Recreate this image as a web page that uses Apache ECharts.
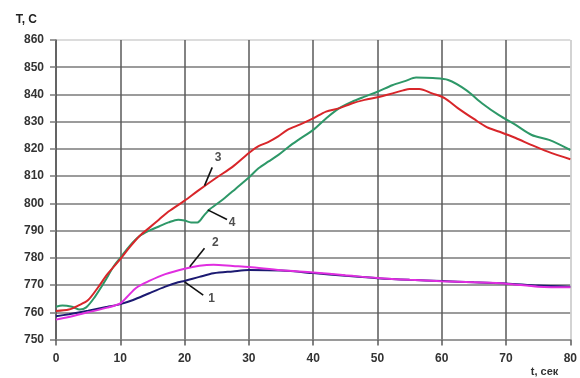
<!DOCTYPE html>
<html>
<head>
<meta charset="utf-8">
<script src="https://cdn.jsdelivr.net/npm/echarts@6/dist/echarts.min.js"></script>
<style>
  html, body { margin: 0; padding: 0; background: #ffffff; }
  #chart { width: 580px; height: 378px; }
</style>
</head>
<body>
<div id="chart"></div>
<script>
// Temperature vs time, four measured curves
const xTicks = [0, 10, 20, 30, 40, 50, 60, 70, 80];
const yTicks = [750, 760, 770, 780, 790, 800, 810, 820, 830, 840, 850, 860];

// Curve 1 (navy)
const t1 = [0, 2, 5, 8, 10, 12, 14.5, 17, 19, 20, 22.3, 24.5, 27.5, 30, 35, 40, 45, 50, 55, 60, 65, 70, 75, 80];
const T1 = [758.5, 759.3, 760.6, 762, 763, 764.5, 767, 769.4, 771, 771.5, 773, 774.3, 775, 775.5, 775.3, 774.4, 773.4, 772.5, 771.9, 771.5, 771, 770.6, 769.8, 769.4];

// Curve 2 (magenta)
const t2 = [0, 2, 5, 8, 10, 11, 12.5, 14.5, 17, 20, 22.3, 24.5, 27.5, 30, 35, 40, 45, 50, 55, 60, 65, 70, 75, 80];
const T2 = [757.3, 758.3, 760, 761.7, 763.3, 765.5, 769, 771.5, 774, 776, 777.1, 777.5, 777, 776.6, 775.4, 774.6, 773.6, 772.6, 771.9, 771.4, 771, 770.5, 769.4, 769.2];

// Curve 3 (red)
const t3 = [0, 2, 3.5, 5, 6.5, 8, 10, 11.5, 13, 14.5, 16, 17.5, 20, 22, 25, 27.5, 30, 31.5, 33, 34.5, 36, 38, 40, 42, 44, 46, 48, 50, 52, 54, 55, 56.5, 58.5, 60.5, 62.5, 65, 67, 69, 71.5, 74, 76.5, 80];
const T3 = [760.5, 761, 762.5, 764.5, 769, 774, 779.5, 784, 788, 791, 794, 797, 801, 804.5, 809.5, 813.5, 818.5, 821, 822.5, 824.5, 827, 829, 831.2, 833.7, 834.9, 836.7, 838, 839, 840.2, 841.5, 842, 842, 840.4, 838.6, 835, 831, 828, 826.3, 824, 821.4, 819, 816.2];

// Curve 4 (green)
const t4 = [0, 1, 2.5, 3.7, 4.7, 6, 7.5, 9, 10, 11.5, 13, 14.5, 16, 17.5, 19, 20, 21, 22, 23, 24, 26, 28, 30, 31.5, 33, 34.6, 36.2, 37.7, 40, 42, 44, 46, 48, 50, 52.3, 54.4, 56, 58.6, 61, 63.8, 66.3, 68.9, 71.5, 74, 76.7, 80];
const T4 = [762, 762.5, 762, 761, 761.8, 765.5, 771, 777, 780, 784.5, 788, 790, 791.5, 793, 794, 793.7, 793, 793, 795.5, 798, 801.5, 805.5, 809.5, 812.9, 815.3, 817.8, 820.8, 823.3, 827, 831.2, 834.9, 837.3, 839.2, 841, 843.4, 845, 846.2, 846, 845.3, 841.6, 836.7, 832.4, 828.8, 825.1, 823.3, 819.6];

// Curve number callouts: leader start, leader end, label position (data units)
const calloutNames = ['1', '2', '3', '4'];
const leaderFrom = [[20, 771.2], [20.8, 776.7], [23.1, 806.5], [23.6, 797.6]];
const leaderTo   = [[22.9, 766.3], [23.1, 783.5], [24.3, 813.2], [26.6, 794.1]];
const labelAt    = [[24.2, 765.0], [24.8, 785.6], [25.2, 816.6], [27.4, 793.0]];

const zip = (ts, vs) => ts.map((t, i) => [t, vs[i]]);
const FONT = 'Liberation Sans, Arial, sans-serif';

const chart = echarts.init(document.getElementById('chart'), null, { renderer: 'canvas' });

function curve(name, ts, vs, color) {
  return {
    name, type: 'line', data: zip(ts, vs), showSymbol: false, smooth: 0.3,
    lineStyle: { color, width: 2 }, itemStyle: { color }, z: 3
  };
}

const xGridColors = xTicks.map((v, i) => i === xTicks.length - 1 ? '#c4c4c4' : '#5a5a5a');
const yGridColors = yTicks.map((v, i) => i === yTicks.length - 1 ? '#d0d0d0' : '#7a7a7a');

chart.setOption({
  animation: false,
  backgroundColor: '#ffffff',
  grid: { left: 56, right: 8.5, top: 40, bottom: 38.5, containLabel: false },
  xAxis: {
    type: 'value', min: xTicks[0], max: xTicks[xTicks.length - 1], interval: 10,
    name: 't, сек', nameLocation: 'end', nameGap: -12,
    nameTextStyle: { fontFamily: FONT, fontSize: 11, fontWeight: 'bold', color: '#333', align: 'right', verticalAlign: 'top', padding: [27, 0, 0, 0] },
    axisLine: { show: true, lineStyle: { color: '#9a9a9a', width: 1.5 } },
    axisTick: { show: true, inside: false, length: 6, lineStyle: { color: '#5a5a5a', width: 1.5 } },
    axisLabel: { fontFamily: FONT, fontSize: 12, fontWeight: 'bold', color: '#333', margin: 13 },
    splitLine: { show: true, lineStyle: { color: xGridColors, width: 1.5 } }
  },
  yAxis: {
    type: 'value', min: yTicks[0], max: yTicks[yTicks.length - 1], interval: 10,
    name: 'T, C', nameLocation: 'end', nameGap: 14,
    nameTextStyle: { fontFamily: FONT, fontSize: 12, fontWeight: 'bold', color: '#222', align: 'right', padding: [0, 19, 0, 0] },
    axisLine: { show: true, lineStyle: { color: '#5a5a5a', width: 1.5 } },
    axisTick: { show: true, inside: false, length: 6, lineStyle: { color: '#7a7a7a', width: 1.5 } },
    axisLabel: { fontFamily: FONT, fontSize: 12, fontWeight: 'bold', color: '#333', margin: 12 },
    splitLine: { show: true, lineStyle: { color: yGridColors, width: 1.5 } }
  },
  series: [
    curve('1', t1, T1, '#1c1a72'),
    curve('2', t2, T2, '#e02ee0'),
    curve('4', t4, T4, '#2e9868'),
    curve('3', t3, T3, '#d8262a'),
    {
      type: 'lines', coordinateSystem: 'cartesian2d', z: 5,
      lineStyle: { color: '#111', width: 1.6, opacity: 1 },
      data: leaderFrom.map((p, i) => ({ coords: [p, leaderTo[i]] }))
    },
    {
      type: 'scatter', symbolSize: 0, z: 6,
      data: labelAt.map((p, i) => ({ value: p, name: calloutNames[i] })),
      label: {
        show: true, position: 'inside', formatter: p => p.name,
        fontFamily: FONT, fontSize: 12, fontWeight: 'bold', color: '#222'
      }
    }
  ]
});
</script>
</body>
</html>
